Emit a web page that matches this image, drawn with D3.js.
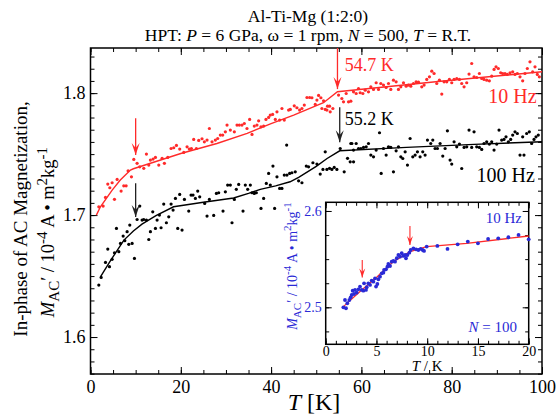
<!DOCTYPE html>
<html><head><meta charset="utf-8">
<script src="https://cdn.jsdelivr.net/npm/d3@7"></script>
<style>body{margin:0;background:#fff}svg{display:block}text{font-family:"Liberation Serif","Times New Roman",serif}</style>
</head><body>
<svg id="c" width="558" height="414"></svg>
<script>
// ---- data ----
const red10T = [1.84,2.80,3.32,3.83,4.28,4.79,5.31,5.90,6.78,7.37,7.89,8.33,9.07,9.59,10.32,10.91,11.80,12.39,12.91,13.27,13.86,14.38,15.12,15.86,16.37,17.11,17.85,18.44,19.03,19.76,20.65,21.39,21.90,22.35,22.86,23.45,23.97,24.70,25.22,25.81,26.33,26.92,27.65,28.17,28.76,29.28,29.87,30.24,30.97,31.86,32.45,32.96,33.55,34.07,34.66,35.25,35.77,36.28,36.87,37.24,37.76,38.35,38.86,39.45,39.82,40.34,40.93,41.30,41.89,42.40,42.92,43.88,44.25,45.13,45.72,46.31,46.83,47.35,47.94,48.53,49.04,49.78,50.15,50.52,51.03,51.62,52.36,52.95,51.25,51.99,52.50,53.09,53.68,54.94,55.67,56.04,56.63,57.15,57.66,58.25,58.84,59.36,59.73,60.32,60.84,61.57,62.09,62.68,63.27,63.79,64.30,64.89,65.48,66.00,66.51,67.10,67.69,68.21,68.73,69.32,69.91,70.42,70.94,71.53,72.12,72.64,73.37,73.89,74.48,75.07,75.59,76.10,76.69,77.28,77.80,78.31,78.90,79.49,80.01,80.53,81.12,81.71,82.22,82.74,83.33,83.84,84.43,84.95,85.54,86.13,86.65,87.16,87.75,88.34,88.86,89.38,89.82,90.33,90.85,91.29,91.81,92.32,92.92,93.51,94.02,94.54,95.13,95.72,96.23,96.75,97.34,97.93,98.45,98.96,99.41];
const red10V = [1.7068,1.7074,1.7145,1.7254,1.7224,1.7265,1.7129,1.7292,1.7197,1.7240,1.7240,1.7363,1.7314,1.7456,1.7424,1.7396,1.7383,1.7500,1.7410,1.7451,1.7459,1.7473,1.7410,1.7465,1.7424,1.7473,1.7546,1.7552,1.7571,1.7541,1.7514,1.7560,1.7541,1.7546,1.7620,1.7546,1.7612,1.7626,1.7601,1.7615,1.7710,1.7601,1.7615,1.7628,1.7656,1.7656,1.7683,1.7738,1.7697,1.7683,1.7738,1.7738,1.7738,1.7751,1.7710,1.7784,1.7661,1.7730,1.7738,1.7773,1.7724,1.7730,1.7784,1.7801,1.7820,1.7825,1.7784,1.7847,1.7779,1.7874,1.7779,1.7861,1.7866,1.7896,1.7880,1.7861,1.7874,1.7902,1.7964,1.7964,1.7962,1.7907,1.7943,1.7981,1.7962,1.7937,1.7861,1.7893,1.7874,1.7866,1.7893,1.7847,1.7874,1.7984,1.7956,1.7929,1.7997,1.7929,1.7934,1.8011,1.7997,1.8038,1.8003,1.7997,1.8024,1.8011,1.8052,1.8030,1.8085,1.8030,1.8079,1.8066,1.8046,1.8079,1.8030,1.8106,1.8093,1.8030,1.8052,1.8085,1.8057,1.8066,1.8057,1.8079,1.8093,1.8090,1.8052,1.8066,1.8112,1.8134,1.8180,1.8161,1.8079,1.8106,1.7992,1.8093,1.8093,1.8112,1.8085,1.8112,1.8120,1.8112,1.8079,1.8052,1.8085,1.8156,1.8243,1.8134,1.8128,1.8161,1.8120,1.8112,1.8106,1.8101,1.8139,1.8194,1.8216,1.8202,1.8167,1.8161,1.8161,1.8153,1.8167,1.8175,1.8153,1.8161,1.8134,1.8101,1.8161,1.8202,1.8257,1.8175,1.8216,1.8153,1.8134];
const blk100T = [1.84,2.36,3.32,3.83,4.20,4.79,5.31,5.75,6.27,6.64,7.23,7.60,8.11,8.48,8.70,9.22,9.73,10.32,10.91,11.43,11.80,12.39,12.91,13.27,13.79,14.38,14.75,15.27,15.63,16.22,16.81,17.33,17.85,18.29,18.81,19.32,19.76,20.28,20.80,21.76,22.27,22.71,23.23,23.75,24.19,25.29,25.81,26.33,27.29,27.88,28.39,29.35,29.87,30.38,30.97,31.34,31.86,32.30,32.82,33.78,34.29,34.81,35.40,35.77,36.28,36.73,37.76,38.35,38.94,39.45,39.82,40.41,40.78,41.30,41.89,42.40,42.92,43.51,44.10,43.45,44.61,45.35,46.09,46.83,47.79,48.30,49.26,50.15,50.88,51.48,51.99,52.36,52.95,53.46,53.98,54.57,55.31,56.19,56.93,57.52,57.89,58.26,57.66,58.25,58.84,59.36,59.88,60.47,61.06,61.57,62.09,62.68,63.27,64.01,64.38,64.89,65.48,66.00,66.51,67.10,67.69,68.21,68.73,69.17,69.69,70.20,70.79,71.38,71.90,72.41,73.00,73.59,74.11,74.63,75.36,75.81,76.32,76.84,77.43,78.02,78.54,79.05,79.64,80.01,80.53,81.12,81.71,82.22,82.74,83.33,83.84,84.43,84.95,85.54,86.13,86.65,87.16,87.75,88.34,88.86,89.38,89.97,90.48,91.07,91.59,92.03,92.55,93.06,93.51,94.02,94.54,95.13,95.72,96.01,96.60,97.19,97.71,98.23,98.67,99.18];
const blk100V = [1.6426,1.6489,1.6612,1.6721,1.6577,1.6637,1.6691,1.6891,1.6700,1.6768,1.6828,1.6790,1.6864,1.6760,1.6918,1.6768,1.6645,1.6964,1.7074,1.6959,1.6964,1.6959,1.6800,1.6864,1.7027,1.6891,1.6959,1.7000,1.6896,1.7090,1.6937,1.6986,1.7090,1.7041,1.7137,1.6891,1.7169,1.6877,1.7128,1.7033,1.7164,1.7164,1.7137,1.7197,1.7150,1.7096,1.6992,1.7128,1.6997,1.7178,1.7183,1.7033,1.7191,1.7246,1.7246,1.6937,1.7128,1.7211,1.7251,1.7033,1.7246,1.7211,1.7246,1.7183,1.7178,1.7183,1.7055,1.7137,1.7260,1.7342,1.7246,1.7402,1.7055,1.7314,1.7219,1.7219,1.7328,1.7328,1.7342,1.7574,1.7347,1.7355,1.7281,1.7265,1.7402,1.7396,1.7429,1.7418,1.7336,1.7374,1.7519,1.7374,1.7383,1.7374,1.7391,1.7374,1.7546,1.7355,1.7465,1.7437,1.7587,1.7437,1.7587,1.7533,1.7587,1.7546,1.7546,1.7555,1.7560,1.7587,1.7492,1.7478,1.7533,1.7675,1.7342,1.7546,1.7492,1.7560,1.7555,1.7355,1.7527,1.7560,1.7478,1.7464,1.7519,1.7410,1.7628,1.7478,1.7492,1.7519,1.7478,1.7519,1.7492,1.7615,1.7587,1.7615,1.7546,1.7546,1.7587,1.7484,1.7546,1.7691,1.7451,1.7418,1.7601,1.7560,1.7582,1.7382,1.7555,1.7560,1.7697,1.7555,1.7683,1.7560,1.7555,1.7538,1.7587,1.7601,1.7582,1.7601,1.7533,1.7582,1.7697,1.7615,1.7620,1.7642,1.7601,1.7620,1.7656,1.7683,1.7669,1.7492,1.7642,1.7492,1.7669,1.7683,1.7587,1.7620,1.7642,1.7656];
const redFitT = [1.3,2.2,4.8,6.6,8.85,9.5,20,28,34.7,40,45,51.6,54.7,77,100];
const redFitV = [1.7000,1.7068,1.7205,1.7287,1.7369,1.7380,1.7505,1.7587,1.7670,1.7750,1.7820,1.7921,1.8011,1.8095,1.8175];
const blkFitT = [2.2,4.5,7.4,9.5,11.4,14.5,18.4,25,31.7,35,37.6,41,44.2,46.1,50,52.4,55.2,70,85,100];
const blkFitV = [1.6494,1.6630,1.6795,1.6870,1.6926,1.6995,1.7068,1.7105,1.7140,1.7178,1.7211,1.7240,1.7273,1.7310,1.7400,1.7464,1.7527,1.7555,1.7580,1.7601];
const insetT = [1.74,1.90,2.00,2.13,2.33,2.46,2.56,2.66,2.79,2.89,3.05,3.22,3.38,3.55,3.71,3.78,3.97,4.04,4.20,4.37,4.53,4.70,4.86,4.96,5.09,5.19,5.35,5.52,5.68,5.75,5.94,6.08,6.17,6.34,6.50,6.67,6.83,7.00,7.16,7.32,7.49,7.65,7.82,7.91,8.05,8.24,8.37,8.64,8.90,9.13,9.36,9.56,9.69,9.95,11,12,13,14,15,16,17,18,19,20];
const insetV = [2.5000,2.5076,2.4990,2.5042,2.5076,2.5104,2.5128,2.5173,2.5138,2.5180,2.5152,2.5187,2.5215,2.5180,2.5173,2.5249,2.5180,2.5208,2.5249,2.5232,2.5277,2.5266,2.5301,2.5215,2.5242,2.5291,2.5318,2.5353,2.5360,2.5388,2.5394,2.5422,2.5450,2.5429,2.5474,2.5481,2.5474,2.5509,2.5543,2.5526,2.5561,2.5533,2.5543,2.5509,2.5543,2.5567,2.5595,2.5612,2.5602,2.5595,2.5606,2.5595,2.5585,2.5630,2.5637,2.5606,2.5654,2.5682,2.5664,2.5709,2.5716,2.5727,2.5751,2.5706];
const insetFitT = [1.74,3.38,5.02,6.67,8.31,9.95,13.9,20];
const insetFitV = [2.5007,2.5163,2.5311,2.5474,2.5578,2.5630,2.5664,2.5740];
const xTicks = [0,20,40,60,80,100];
const yTicks = [1.6,1.7,1.8];
const insetXTicks = [0,5,10,15,20];
const insetYTicks = [2.5,2.6];
// arrows: [T, vFrom, vTo]
const mainArrowsRed = [[54.7,1.837,1.8033],[10,1.7795,1.7492]];
const mainArrowsBlk = [[55.2,1.7885,1.7598],[10,1.7262,1.6984]];
const insetArrows = [[3.6,2.549,2.531],[8.3,2.5844,2.5647]];

const RED = "#ff2a2a", BLUE = "#2a2ad6";
const SERIF = "Liberation Serif";
const svg = d3.select("#c");
svg.append("rect").attr("width",558).attr("height",414).attr("fill","#fff");

const M = {l:90.5, r:542, t:48, b:374};
const x = d3.scaleLinear().domain([0,100]).range([M.l,M.r]);
const y = d3.scaleLinear().domain([1.5697,1.837]).range([M.b,M.t]);

function axes(g, xs, ys, xMajor, xMinor, yMajor, yMinor, maj, min, fs, xpad, ypad, xColor, yColor){
  const W = xs.range(), H = ys.range();
  g.append("g").attr("transform",`translate(0,${H[0]})`).call(d3.axisBottom(xs).tickValues(xMinor).tickSize(-min).tickFormat(""));
  g.append("g").attr("transform",`translate(0,${H[0]})`).call(d3.axisBottom(xs).tickValues(xMajor).tickSize(-maj).tickPadding(xpad).tickFormat(d3.format("d")))
    .selectAll("text").attr("dy","0.75em").style("font-size",fs+"px").attr("fill",xColor);
  g.append("g").attr("transform",`translate(0,${H[1]})`).call(d3.axisTop(xs).tickValues(xMinor).tickSize(-min).tickFormat(""));
  g.append("g").attr("transform",`translate(0,${H[1]})`).call(d3.axisTop(xs).tickValues(xMajor).tickSize(-maj).tickFormat(""));
  g.append("g").attr("transform",`translate(${W[0]},0)`).call(d3.axisLeft(ys).tickValues(yMinor).tickSize(-min).tickFormat(""));
  g.append("g").attr("transform",`translate(${W[0]},0)`).call(d3.axisLeft(ys).tickValues(yMajor).tickSize(-maj).tickPadding(ypad).tickFormat(d3.format(".1f")))
    .selectAll("text").style("font-size",fs+"px").attr("fill",yColor);
  g.append("g").attr("transform",`translate(${W[1]},0)`).call(d3.axisRight(ys).tickValues(yMinor).tickSize(-min).tickFormat(""));
  g.append("g").attr("transform",`translate(${W[1]},0)`).call(d3.axisRight(ys).tickValues(yMajor).tickSize(-maj).tickFormat(""));
  g.selectAll(".domain").remove();
  g.selectAll("g").attr("font-family",SERIF);
  g.selectAll(".tick line").attr("stroke","#000").attr("stroke-width",1);
  g.append("rect").attr("x",W[0]).attr("y",H[1]).attr("width",W[1]-W[0]).attr("height",H[0]-H[1])
    .attr("fill","none").attr("stroke","#000").attr("stroke-width",1.5);
}

const main = svg.append("g");
const xMinor = d3.range(0,101,5), yMinor = d3.range(1.57,1.8371,0.01).map(v=>+v.toFixed(2));
axes(main, x, y, xTicks, xMinor, yTicks, yMinor, 7, 4, 18, 5, 5, "#000", "#000");

const line = (xs,ys)=>d3.line().x(d=>xs(d[0])).y(d=>ys(d[1]));
const zip = (a,b)=>a.map((v,i)=>[v,b[i]]);

main.append("path").datum(zip(redFitT,redFitV)).attr("d",line(x,y)).attr("fill","none").attr("stroke",RED).attr("stroke-width",1.4);
main.append("path").datum(zip(blkFitT,blkFitV)).attr("d",line(x,y)).attr("fill","none").attr("stroke","#000").attr("stroke-width",1.4);
main.selectAll("circle.r").data(zip(red10T,red10V)).join("circle").attr("class","r")
  .attr("cx",d=>x(d[0])).attr("cy",d=>y(d[1])).attr("r",1.6).attr("fill",RED);
main.selectAll("circle.k").data(zip(blk100T,blk100V)).join("circle").attr("class","k")
  .attr("cx",d=>x(d[0])).attr("cy",d=>y(d[1])).attr("r",1.6).attr("fill","#000");

function arrow(g, xs, ys, a, color, w, hw, hl){
  const X = xs(a[0]), y0 = ys(a[1]), y1 = ys(a[2]);
  g.append("line").attr("x1",X).attr("x2",X).attr("y1",y0).attr("y2",y1).attr("stroke",color).attr("stroke-width",w);
  g.append("path").attr("d",`M${X-hw},${y1-hl} L${X},${y1} L${X+hw},${y1-hl} L${X},${y1-hl*0.6}Z`).attr("fill",color);
}
mainArrowsRed.forEach(a=>arrow(main,x,y,a,RED,1.3,4,12));
mainArrowsBlk.forEach(a=>arrow(main,x,y,a,"#222",1.3,4,12));

main.append("text").attr("x",x(56.3)).attr("y",y(1.818)).attr("fill",RED).style("font-size","18px").text("54.7 K");
main.append("text").attr("x",x(56.3)).attr("y",y(1.7735)).attr("fill","#000").style("font-size","18px").text("55.2 K");
main.append("text").attr("x",x(98.8)).attr("y",y(1.7918)).attr("text-anchor","end").attr("fill",RED).style("font-size","20px").text("10 Hz");
main.append("text").attr("x",x(98.4)).attr("y",y(1.7272)).attr("text-anchor","end").attr("fill","#000").style("font-size","20px").text("100 Hz");

// titles
svg.append("text").attr("x",308).attr("y",22).attr("text-anchor","middle").style("font-size","17.5px").text("Al-Ti-Mg (1:2:0)");
const t2 = svg.append("text").attr("x",308).attr("y",41).attr("text-anchor","middle").style("font-size","17.5px");
[["HPT: ",0],["P",1],[" = 6 GPa, ω = 1 rpm, ",0],["N",1],[" = 500, ",0],["T",1],[" = R.T.",0]].forEach(p=>{
  t2.append("tspan").attr("font-style",p[1]?"italic":null).text(p[0]);
});

// x label
const xl = svg.append("text").attr("x",314).attr("y",410).attr("text-anchor","middle").style("font-size","24px");
xl.append("tspan").attr("font-style","italic").text("T");
xl.append("tspan").text(" [K]");

// y label
svg.append("text").attr("transform","translate(27,219) rotate(-90)").attr("text-anchor","middle").style("font-size","19px").text("In-phase of AC Magnetization,");
function unitLabel(sel, fs){
  const sub = Math.round(fs*0.8);
  sel.append("tspan").attr("font-style","italic").text("M");
  sel.append("tspan").style("font-size",sub+"px").attr("dy",fs*0.25).text("AC");
  sel.append("tspan").attr("dy",-fs*0.25).text("′ / 10");
  sel.append("tspan").style("font-size",sub+"px").attr("dy",-fs*0.4).text("-4");
  sel.append("tspan").attr("dy",fs*0.4).text(" A • m");
  sel.append("tspan").style("font-size",sub+"px").attr("dy",-fs*0.4).text("2");
  sel.append("tspan").attr("dy",fs*0.4).text("kg");
  sel.append("tspan").style("font-size",sub+"px").attr("dy",-fs*0.4).text("-1");
}
unitLabel(svg.append("text").attr("transform","translate(54,232) rotate(-90)").attr("text-anchor","middle").style("font-size","18.5px"),18.5);

// ---- inset ----
const ix = d3.scaleLinear().domain([0,20]).range([325.7,528.7]);
const iy = d3.scaleLinear().domain([2.4616,2.609]).range([344.3,202.3]);
const ins = svg.append("g");
ins.append("rect").attr("x",325.7).attr("y",202.3).attr("width",203).attr("height",142).attr("fill","#fff");
const iyMinor = d3.range(2.475,2.609,0.025).map(v=>+v.toFixed(3));
axes(ins, ix, iy, insetXTicks, d3.range(0,21,1), insetYTicks, iyMinor, 6, 3.5, 14, 1, 4, "#000", BLUE);
ins.append("path").datum(zip(insetFitT,insetFitV)).attr("d",line(ix,iy)).attr("fill","none").attr("stroke",RED).attr("stroke-width",1.3);
ins.selectAll("circle.b").data(zip(insetT,insetV)).join("circle").attr("class","b")
  .attr("cx",d=>ix(d[0])).attr("cy",d=>iy(d[1])).attr("r",1.9).attr("fill",BLUE);
insetArrows.forEach(a=>arrow(ins,ix,iy,a,RED,1.1,3,9));
ins.append("text").attr("x",522).attr("y",223).attr("text-anchor","end").attr("fill",BLUE).style("font-size","15px").text("10 Hz");
const nl = ins.append("text").attr("x",517).attr("y",332).attr("text-anchor","end").attr("fill",BLUE).style("font-size","15px");
nl.append("tspan").attr("font-style","italic").text("N");
nl.append("tspan").text(" = 100");
const itl = ins.append("text").attr("x",ix(10)).attr("y",371).attr("text-anchor","middle").style("font-size","15px");
itl.append("tspan").attr("font-style","italic").text("T");
itl.append("tspan").text(" / K");
unitLabel(ins.append("text").attr("transform","translate(297,266) rotate(-90)").attr("text-anchor","middle").attr("fill",BLUE).style("font-size","14px"),14);
</script>
</body></html>
